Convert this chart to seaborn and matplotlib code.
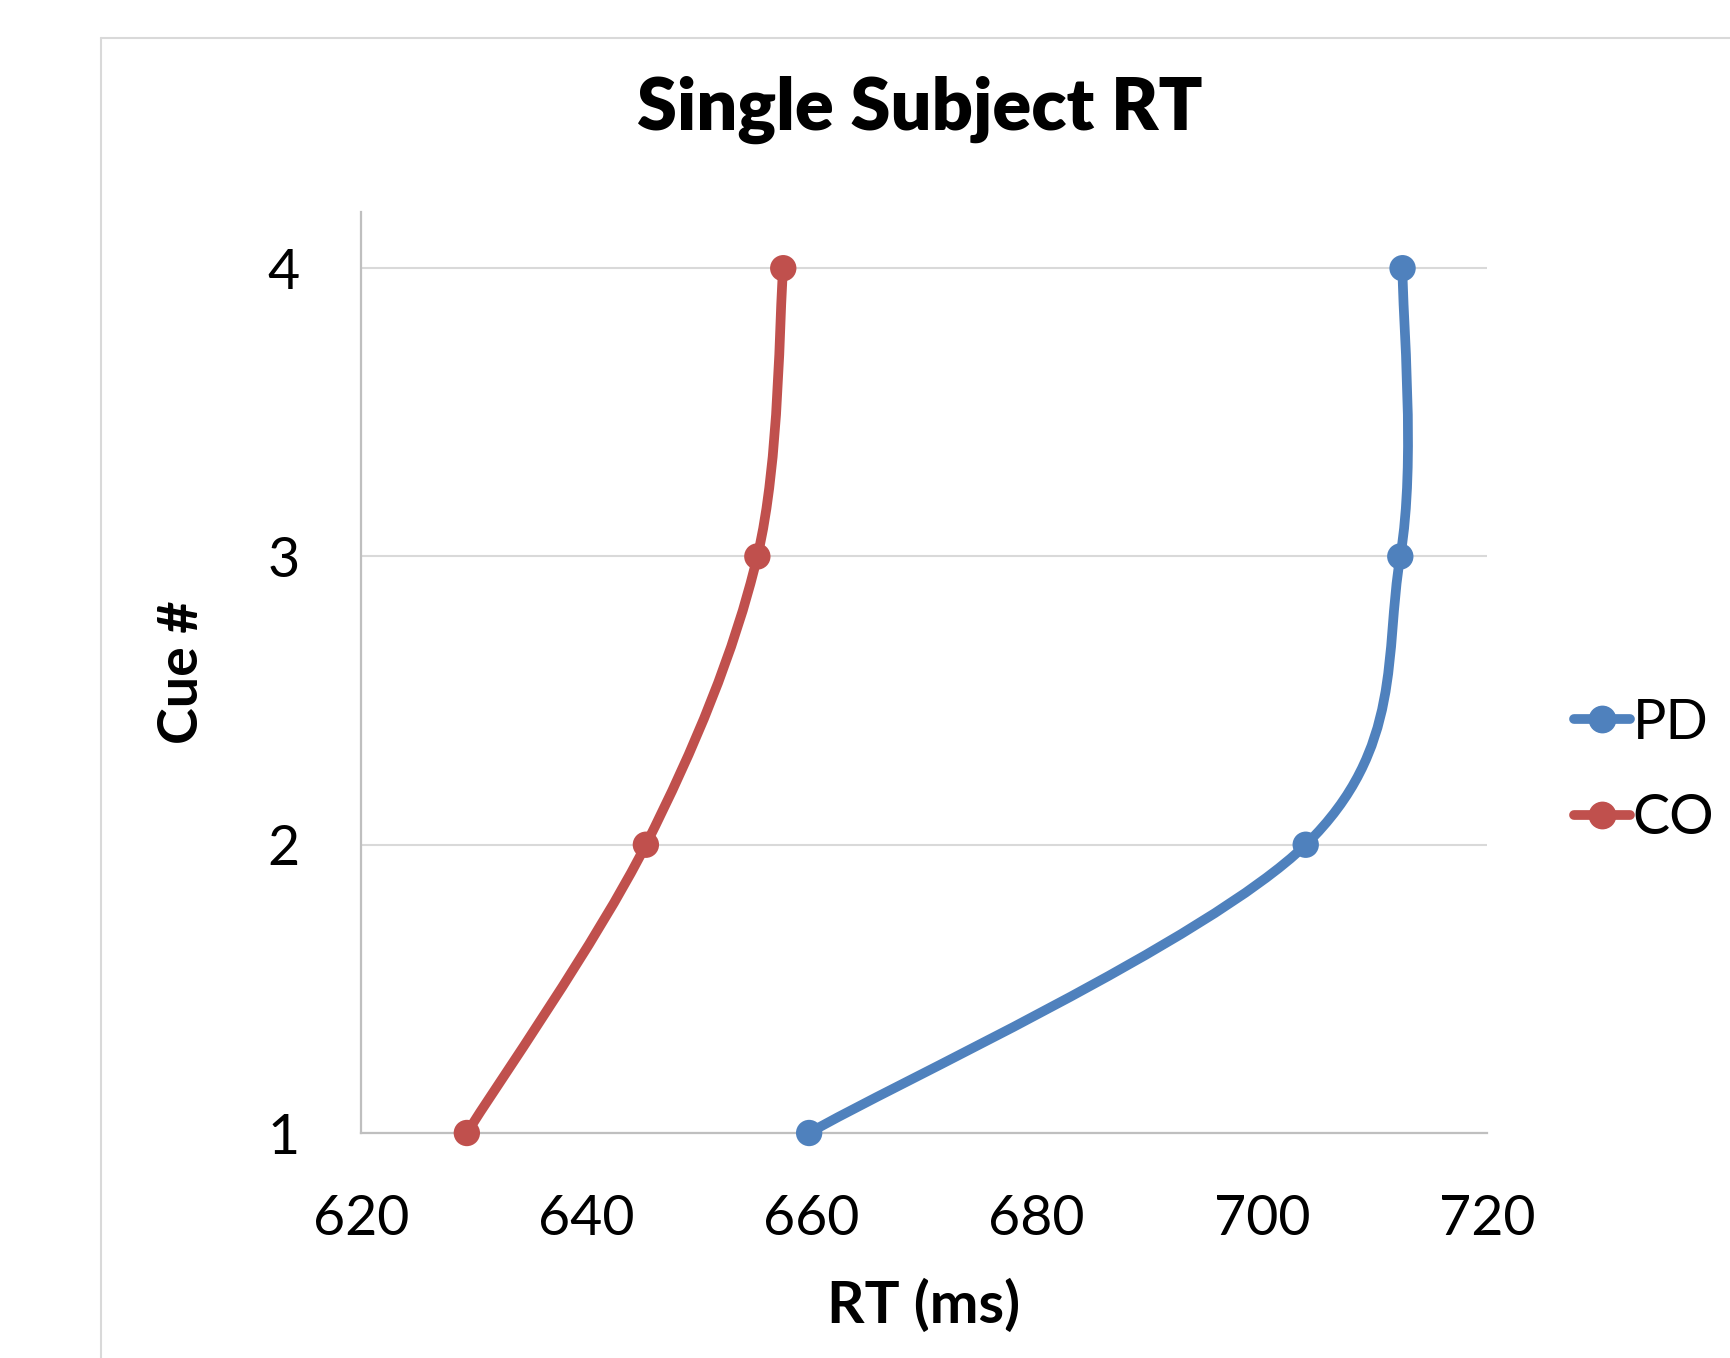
import matplotlib
matplotlib.use("Agg")
import matplotlib.pyplot as plt
import seaborn as sns
import numpy as np
import pandas as pd
from matplotlib.path import Path
from matplotlib.patches import PathPatch
from matplotlib.lines import Line2D

cues = [1, 2, 3, 4]
pd_rt = [659.8, 703.9, 712.3, 712.5]
co_rt = [629.4, 645.3, 655.2, 657.5]
series_names = ["PD", "CO"]
colors = {"PD": "#4F81BD", "CO": "#C0504D"}
x_ticks = [620, 640, 660, 680, 700, 720]
y_ticks = [1, 2, 3, 4]

sns.set_theme(style="white")
plt.rcParams["font.family"] = ["Lato", "DejaVu Sans"]
plt.rcParams["text.color"] = "black"
plt.rcParams["axes.labelcolor"] = "black"

df = pd.DataFrame({
    "RT": pd_rt + co_rt,
    "Cue": cues + cues,
    "Group": ["PD"] * 4 + ["CO"] * 4,
})

fig = plt.figure(figsize=(17.31, 13.58), dpi=100)
ax = fig.add_axes([361 / 1731, 1 - 1133 / 1358, (1487 - 361) / 1731, (1133 - 212) / 1358])

def smooth_path(xs, ys):
    pts = np.column_stack([xs, ys]).astype(float)
    n = len(pts)
    verts = [pts[0]]
    codes = [Path.MOVETO]
    for i in range(n - 1):
        p0 = pts[i - 1] if i > 0 else pts[i]
        p1 = pts[i]
        p2 = pts[i + 1]
        p3 = pts[i + 2] if i + 2 < n else pts[i + 1]
        c1 = p1 + (p2 - p0) / 6.0
        c2 = p2 - (p3 - p1) / 6.0
        verts += [c1, c2, p2]
        codes += [Path.CURVE4] * 3
    return Path(verts, codes)

lw = 7.0
for name in series_names:
    sub = df[df["Group"] == name]
    patch = PathPatch(smooth_path(sub["RT"].values, sub["Cue"].values),
                      facecolor="none", edgecolor=colors[name], lw=lw,
                      capstyle="round", joinstyle="round", zorder=3, clip_on=False)
    ax.add_patch(patch)

sns.scatterplot(data=df, x="RT", y="Cue", hue="Group", palette=colors,
                s=360, edgecolor="none", legend=False, ax=ax, zorder=4, clip_on=False)

ax.set_xlim(620, 720)
ax.set_ylim(1, 4.195)
ax.set_xticks(x_ticks)
ax.set_yticks(y_ticks)
ax.set_xticklabels([str(v) for v in x_ticks])
ax.set_yticklabels([str(v) for v in y_ticks])
ax.tick_params(axis="x", length=0, pad=44, labelsize=40, colors="black")
ax.tick_params(axis="y", length=0, pad=44, labelsize=40, colors="black")

ax.grid(axis="y", color="#D9D9D9", lw=1.5)
ax.grid(axis="x", visible=False)
for s in ["top", "right"]:
    ax.spines[s].set_visible(False)
for s in ["left", "bottom"]:
    ax.spines[s].set_color("#BFBFBF")
    ax.spines[s].set_linewidth(1.6)

ax.set_xlabel("RT (ms)", fontsize=42, fontweight="bold", labelpad=24)
ax.set_ylabel("Cue #", fontsize=40, fontweight="bold", labelpad=44)

fig.text(920 / 1731, 1 - 110 / 1358, "Single Subject RT", ha="center", va="center",
         fontsize=52, fontweight="heavy")

handles = [Line2D([0], [0], color=colors[n], lw=lw, marker="o", markersize=19,
                  solid_capstyle="round") for n in series_names]
fig.legend(handles, series_names, loc="center left",
           bbox_to_anchor=(1552 / 1731, 1 - 771 / 1358), frameon=False,
           fontsize=40, handlelength=1.0, handletextpad=0.05, labelspacing=0.8,
           borderaxespad=0)

# chart area border (left and top visible)
fig.add_artist(Line2D([101 / 1731, 101 / 1731], [0, 1 - 38 / 1358],
                      transform=fig.transFigure, color="#D9D9D9", lw=1.5))
fig.add_artist(Line2D([101 / 1731, 1], [1 - 38 / 1358, 1 - 38 / 1358],
                      transform=fig.transFigure, color="#D9D9D9", lw=1.5))

fig.savefig("out.png", dpi=100, facecolor="white")
